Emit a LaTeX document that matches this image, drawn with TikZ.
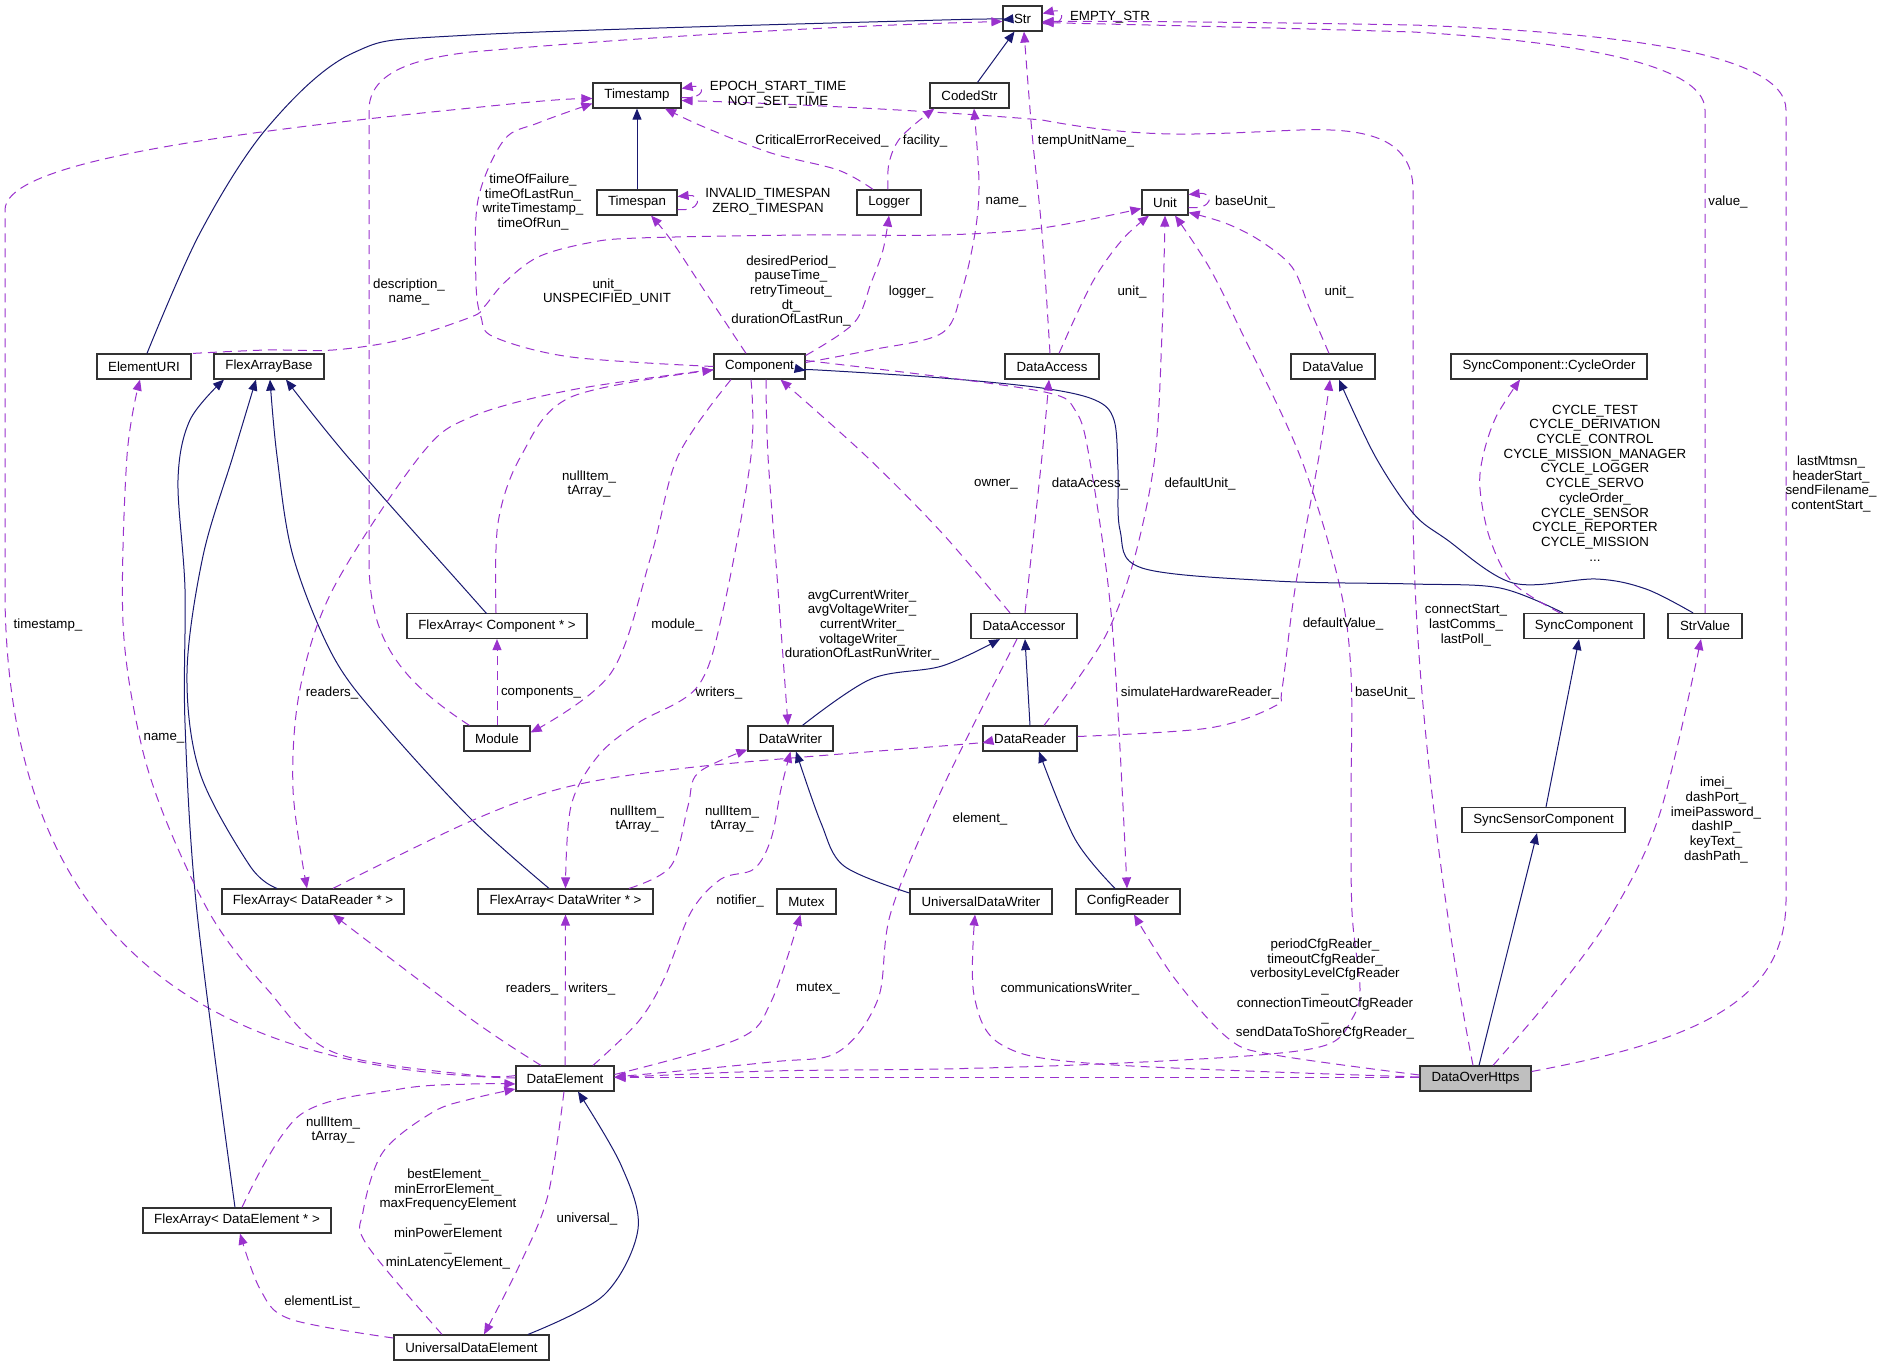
\documentclass[tikz,border=0pt]{standalone}
\usepackage{fontspec}
\setmainfont{Liberation Sans}
\usetikzlibrary{arrows.meta}
\definecolor{purp}{RGB}{154,50,205}
\definecolor{navy}{RGB}{25,25,112}
\definecolor{boxline}{RGB}{50,50,50}
\begin{document}
\begin{tikzpicture}[x=1pt,y=-1pt,
  box/.style={draw=boxline, line width=1.2pt, fill=white, rectangle, minimum height=25pt, inner sep=0pt, font=\fontsize{13.3}{14.7}\selectfont},
  inh/.style={draw=navy, line width=1pt, -{Triangle[length=11pt,width=9pt]}},
  usee/.style={draw=purp, line width=1pt, dash pattern=on 9pt off 6pt, -{Triangle[length=11pt,width=9pt]}},
  lbl/.style={font=\fontsize{13.3}{14.7}\selectfont, align=center, inner sep=0pt},
  sm/.style={smooth, tension=0.55}
]
\useasboundingbox (0,0) rectangle (1884,1367);
% nodes
\node[box, minimum width=39pt] (Str) at (1022.5,18.5) {Str};
\node[box, minimum width=79pt] (CodedStr) at (969.5,95.5) {CodedStr};
\node[box, minimum width=88pt] (Timestamp) at (637,95.5) {Timestamp};
\node[box, minimum width=80pt] (Timespan) at (637,202.5) {Timespan};
\node[box, minimum width=64pt] (Logger) at (889,202.5) {Logger};
\node[box, minimum width=46pt] (Unit) at (1165,202.5) {Unit};
\node[box, minimum width=94pt] (ElementURI) at (144,366.5) {ElementURI};
\node[box, minimum width=110pt] (FlexArrayBase) at (269,366.5) {FlexArrayBase};
\node[box, minimum width=91pt] (Component) at (759.5,366.5) {Component};
\node[box, minimum width=94pt] (DataAccess) at (1052,366.5) {DataAccess};
\node[box, minimum width=84pt] (DataValue) at (1333,366.5) {DataValue};
\node[box, minimum width=196pt] (CycleOrder) at (1549,366.5) {SyncComponent::CycleOrder};
\node[box, minimum width=180pt] (FlexArrayComp) at (497,626) {FlexArray< Component * >};
\node[box, minimum width=106pt] (DataAccessor) at (1024,626) {DataAccessor};
\node[box, minimum width=120pt] (SyncComponent) at (1584,626) {SyncComponent};
\node[box, minimum width=74pt] (StrValue) at (1705,626) {StrValue};
\node[box, minimum width=66pt] (Module) at (497,738.5) {Module};
\node[box, minimum width=85pt] (DataWriter) at (790.5,738.5) {DataWriter};
\node[box, minimum width=94pt] (DataReader) at (1030,738.5) {DataReader};
\node[box, minimum width=163pt] (SyncSensorComponent) at (1543.5,820) {SyncSensorComponent};
\node[box, minimum width=182pt] (FlexArrayReader) at (313,901.5) {FlexArray< DataReader * >};
\node[box, minimum width=175pt] (FlexArrayWriter) at (565.5,901.5) {FlexArray< DataWriter * >};
\node[box, minimum width=59pt] (Mutex) at (806.5,901.5) {Mutex};
\node[box, minimum width=142pt] (UniversalDataWriter) at (981,901.5) {UniversalDataWriter};
\node[box, minimum width=104pt] (ConfigReader) at (1128,901.5) {ConfigReader};
\node[box, minimum width=98pt] (DataElement) at (565,1078.5) {DataElement};
\node[box, minimum width=111pt, fill={rgb,255:red,191;green,191;blue,191}] (DataOverHttps) at (1475.5,1078.5) {DataOverHttps};
\node[box, minimum width=188pt] (FlexArrayElement) at (237,1220.5) {FlexArray< DataElement * >};
\node[box, minimum width=155pt] (UniversalDataElement) at (471.5,1347.5) {UniversalDataElement};

% edges
\draw[inh] plot[sm] coordinates {([xshift=3pt]ElementURI.north) (200,233) (267,128) (353,53) (471,35) (942,20) ([yshift=-1.5pt]Str.west)};
\draw[usee] ([xshift=6pt]Module.north west) .. controls (400,680) and (369,640) .. (369,560) -- (369,110) .. controls (369,70) and (420,58) .. (471,52) .. controls (700,32) and (900,24) .. ([yshift=-3pt]Str.west);
\draw[usee] ([yshift=-5pt]Str.east) .. controls (1066,28) and (1066,8) .. ([yshift=5pt]Str.east);
\draw[inh] ([xshift=8pt]CodedStr.north) -- ([xshift=-8pt]Str.south);
\draw[usee] ([yshift=-2pt]Timestamp.east) .. controls (706,100) and (706,84) .. ([yshift=7pt]Timestamp.east);
\draw[inh] (Timespan.north) -- (Timestamp.south);
\draw[usee] ([yshift=-7pt]Timespan.east) .. controls (702,212) and (702,194) .. ([yshift=6pt]Timespan.east);
\draw[usee] plot[sm] coordinates {([xshift=-16pt]Logger.north) (838,170) (771,153) (704,127) ([xshift=28pt]Timestamp.south)};
\draw[usee] plot[sm] coordinates {([xshift=-1pt]Logger.north) (889,163) (901,137) ([xshift=5pt]CodedStr.south west)};
\draw[usee] plot[sm] coordinates {(Component.west) (571,357) (494,337) (481,317) (476,283) (478,200) (504,140) (538,123) ([yshift=-8pt]Timestamp.west)};
\draw[usee] ([yshift=0.5pt]DataElement.west) .. controls (180,1070) and (10,920) .. (5,600) -- (5,210) .. controls (5,170) and (150,140) .. (471,108) .. controls (530,102) and (560,99) .. ([yshift=-3pt]Timestamp.west);
\draw[usee] plot[sm] coordinates {([xshift=49pt]ElementURI.north) (267,350) (333,350) (400,340) (471,317) (484,307) (504,283) (538,257) (588,243) (638,238) (804,235) (942,235) (1042,228) ([yshift=-6pt]Unit.west)};
\draw[usee] plot[sm] coordinates {([xshift=-13.5pt]Component.north) (704,290) (671,240) ([xshift=14pt]Timespan.south)};
\draw[usee] plot[sm] coordinates {([yshift=11pt]Component.east) (854,323) (871,283) (883,250) (Logger.south)};
\draw[usee] plot[sm] coordinates {([yshift=4pt]Component.east) (871,350) (942,333) (962,290) (975,233) (979,183) ([xshift=4.5pt]CodedStr.south)};
\draw[usee] plot[sm] coordinates {([xshift=-2pt]DataAccess.north) (1042,233) (1032,133) ([xshift=1.5pt]Str.south)};
\draw[usee] plot[sm] coordinates {([xshift=7pt]DataAccess.north) (1092,283) (1122,240) ([xshift=-16pt]Unit.south)};
\draw[usee] ([yshift=-5pt]Unit.east) .. controls (1214,210) and (1214,192) .. ([yshift=8pt]Unit.east);
\draw[usee] plot[sm] coordinates {([xshift=-4pt]DataValue.north) (1309,307) (1292,267) (1259,240) (1225,223) ([yshift=-10pt]Unit.east)};
\draw[usee] plot[sm] coordinates {([xshift=14pt]DataReader.north) (1075,683) (1109,629) (1135,556) (1155,456) (1162,333) (Unit.south)};
\draw[usee] plot[sm] coordinates {([yshift=1pt]DataElement.east) (771,1071) (942,1069) (1100,1064) (1259,1055) (1329,1044) (1352,1019) (1360,989) (1352,912) (1351,800) (1351,673) (1339,583) (1300,456) (1242,333) (1209,267) ([xshift=10pt]Unit.south)};
\draw[usee] ([yshift=1pt]DataOverHttps.west) -- ([yshift=1pt]DataElement.east);
\draw[usee] ([xshift=-2.5pt]DataOverHttps.north) .. controls (1450,950) and (1413,700) .. (1413,500) -- (1413,190) .. controls (1413,135) and (1360,128) .. (1300,130) .. controls (1200,134) and (1150,140) .. (1042,120) .. controls (950,112) and (800,104) .. ([yshift=-5pt]Timestamp.east);
\draw[usee] ([yshift=7pt]DataOverHttps.east) .. controls (1700,1040) and (1786,1000) .. (1786,900) -- (1786,110) .. controls (1786,50) and (1600,32) .. (1413,25) .. controls (1250,22) and (1100,21) .. ([yshift=-3pt]Str.east);
\draw[usee] (StrValue.north) -- (1705,110) .. controls (1705,60) and (1550,40) .. (1413,32) .. controls (1250,27) and (1100,24) .. ([yshift=-4pt]Str.east);
\draw[usee] plot[sm] coordinates {([xshift=17.5pt]DataOverHttps.north) (1553,995) (1613,912) (1660,813) ([xshift=-4pt]StrValue.south)};
\draw[inh] ([xshift=3.5pt]DataOverHttps.north) -- ([xshift=-6.5pt]SyncSensorComponent.south);
\draw[inh] ([xshift=2.5pt]SyncSensorComponent.north) -- ([xshift=-5pt]SyncComponent.south);
\draw[inh] plot[sm] coordinates {([xshift=-21pt]SyncComponent.north) (1500,588) (1413,584) (1275,581) (1142,568) (1120,530) (1118,470) (1114,420) (1095,400) (1042,388) (942,378) (818,370) ([yshift=-4pt]Component.east)};
\draw[usee] plot[sm] coordinates {([xshift=-24pt]SyncComponent.north) (1513,583) (1490,539) (1480,489) (1483,456) (1496,417) ([xshift=-29pt]CycleOrder.south)};
\draw[inh] plot[sm] coordinates {([xshift=-12pt]StrValue.north) (1646,589) (1596,579) (1513,583) (1446,539) (1413,513) (1375,456) ([xshift=6pt]DataValue.south)};
\draw[usee] plot[sm] coordinates {([yshift=2pt]DataReader.east) (1209,728) (1275,706) (1282,689) (1295,589) (1319,456) ([xshift=-3pt]DataValue.south)};
\draw[inh] (DataReader.north) -- ([xshift=1pt]DataAccessor.south);
\draw[usee] plot[sm] coordinates {([xshift=1pt]DataAccessor.north) (1042,456) ([xshift=-3pt]DataAccess.south)};
\draw[usee] plot[sm] coordinates {([xshift=-14pt]DataAccessor.north) (942,533) (866,456) ([xshift=21pt]Component.south)};
\draw[inh] plot[sm] coordinates {([xshift=12pt]DataWriter.north) (871,679) (942,666) ([xshift=-24pt]DataAccessor.south)};
\draw[usee] plot[sm] coordinates {([xshift=6.5pt]Component.south) (768,456) (778,589) ([xshift=-2.5pt]DataWriter.north)};
\draw[usee] plot[sm] coordinates {([xshift=-8.5pt]Component.south) (751,456) (724,606) (698,686) (638,723) (598,756) (571,806) (FlexArrayWriter.north)};
\draw[usee] plot[sm] coordinates {([xshift=-28.5pt]Component.south) (678,456) (651,556) (611,673) ([yshift=6pt]Module.east)};
\draw[usee] (Module.north) -- (FlexArrayComp.south);
\draw[usee] plot[sm] coordinates {([xshift=-1pt]FlexArrayComp.north) (498,523) (521,456) (571,397) ([yshift=-3.5pt]Component.west)};
\draw[inh] plot[sm] coordinates {([xshift=-11pt]FlexArrayComp.north) (471,596) (347,456) ([xshift=17pt]FlexArrayBase.south)};
\draw[inh] plot[sm] coordinates {([xshift=-36pt]FlexArrayReader.north) (250,866) (200,773) (187,673) (203,556) (233,456) ([xshift=-13pt]FlexArrayBase.south)};
\draw[inh] plot[sm] coordinates {([xshift=-16.5pt]FlexArrayWriter.north) (471,819) (383,723) (333,656) (293,556) (277,456) ([xshift=1pt]FlexArrayBase.south)};
\draw[inh] plot[sm] coordinates {([xshift=-2pt]FlexArrayElement.north) (197,912) (185,723) (185,589) (178,480) (190,420) ([xshift=-45pt]FlexArrayBase.south)};
\draw[usee] plot[sm] coordinates {([xshift=-24pt]DataElement.north) (471,1019) ([xshift=20pt]FlexArrayReader.south)};
\draw[usee] (DataElement.north) -- (FlexArrayWriter.south);
\draw[usee] plot[sm] coordinates {([xshift=28pt]DataElement.north) (638,1022) (664,979) (691,912) (721,879) (754,869) (771,839) (781,789) (DataWriter.south)};
\draw[usee] plot[sm] coordinates {([yshift=4pt]DataElement.east) (738,1039) (771,1002) ([xshift=-6pt]Mutex.south)};
\draw[usee] plot[sm] coordinates {([xshift=-7pt]DataAccessor.south) (942,789) (891,912) (878,999) (838,1052) (771,1062) ([yshift=1.5pt]DataElement.east)};
\draw[usee] plot[sm] coordinates {([yshift=-3pt]Component.west) (571,390) (471,417) (420,456) (333,589) (300,689) (293,789) ([xshift=-6pt]FlexArrayReader.north)};
\draw[usee] plot[sm] coordinates {([xshift=20pt]FlexArrayReader.north) (471,821) (571,786) (704,766) (942,746) ([yshift=-4.5pt]DataReader.west)};
\draw[usee] plot[sm] coordinates {([xshift=63.5pt]FlexArrayWriter.north) (671,866) (688,806) (698,773) ([yshift=2pt]DataWriter.south west)};
\draw[usee] plot[sm] coordinates {([yshift=3pt]DataElement.west) (471,1075) (333,1052) (267,989) (213,919) (167,823) (140,739) (123,623) (127,456) ([xshift=-4pt]ElementURI.south)};
\draw[usee] plot[sm] coordinates {([xshift=5pt]FlexArrayElement.north) (300,1115) (400,1089) (471,1084) ([yshift=-5.5pt]DataElement.west)};
\draw[usee] plot[sm] coordinates {([xshift=-29.5pt]UniversalDataElement.north) (367,1245) (363,1212) (383,1152) (433,1112) (471,1099) ([yshift=-10.5pt]DataElement.west)};
\draw[usee] plot[sm] coordinates {([xshift=-1pt]DataElement.south) (548,1195) (521,1262) ([xshift=12.5pt]UniversalDataElement.north)};
\draw[inh] plot[sm] coordinates {([xshift=56.5pt]UniversalDataElement.north) (604,1295) (638,1229) (621,1165) ([xshift=13pt]DataElement.south)};
\draw[usee] plot[sm] coordinates {([yshift=9.5pt]UniversalDataElement.west) (290,1319) (260,1289) ([xshift=3pt]FlexArrayElement.south)};
\draw[inh] plot[sm] coordinates {([yshift=8.5pt]UniversalDataWriter.west) (844,866) (821,823) ([xshift=5.5pt]DataWriter.south)};
\draw[inh] plot[sm] coordinates {([xshift=-13pt]ConfigReader.north) (1075,839) ([xshift=9pt]DataReader.south)};
\draw[usee] plot[sm] coordinates {([yshift=6pt]Component.east) (942,377) (1049,393) (1075,410) (1089,456) (1112,623) ([xshift=-1pt]ConfigReader.north)};
\draw[usee] plot[sm] coordinates {([yshift=1.5pt]DataOverHttps.west) (1099,1064) (1002,1045) (974,995) ([xshift=-6pt]UniversalDataWriter.south)};
\draw[usee] plot[sm] coordinates {([yshift=3.5pt]DataOverHttps.west) (1275,1055) (1229,1039) (1175,979) ([xshift=6pt]ConfigReader.south)};

% labels
\node[lbl] (l1) at (409,292) {description\_\\name\_};
\node[lbl] (l2) at (1110,17) {EMPTY\_STR};
\node[lbl] (l3) at (778,95) {EPOCH\_START\_TIME\\NOT\_SET\_TIME};
\node[lbl] (l4) at (768,202) {INVALID\_TIMESPAN\\ZERO\_TIMESPAN};
\node[lbl] (l5) at (822,141) {CriticalErrorReceived\_};
\node[lbl] (l6) at (925,141) {facility\_};
\node[lbl] (l7) at (533,202) {timeOfFailure\_\\timeOfLastRun\_\\writeTimestamp\_\\timeOfRun\_};
\node[lbl] (l8) at (48,625) {timestamp\_};
\node[lbl] (l9) at (607,292) {unit\_\\UNSPECIFIED\_UNIT};
\node[lbl] (l10) at (791,291) {desiredPeriod\_\\pauseTime\_\\retryTimeout\_\\dt\_\\durationOfLastRun\_};
\node[lbl] (l11) at (911,292) {logger\_};
\node[lbl] (l12) at (1006,202) {name\_};
\node[lbl] (l13) at (1086,141) {tempUnitName\_};
\node[lbl] (l14) at (1132,292) {unit\_};
\node[lbl] (l15) at (1245,202) {baseUnit\_};
\node[lbl] (l16) at (1339,292) {unit\_};
\node[lbl] (l17) at (1200,484) {defaultUnit\_};
\node[lbl] (l18) at (1385,693) {baseUnit\_};
\node[lbl] (l19) at (1466,625) {connectStart\_\\lastComms\_\\lastPoll\_};
\node[lbl] (l20) at (1831,484) {lastMtmsn\_\\headerStart\_\\sendFilename\_\\contentStart\_};
\node[lbl] (l21) at (1728,202) {value\_};
\node[lbl] (l22) at (1716,820) {imei\_\\dashPort\_\\imeiPassword\_\\dashIP\_\\keyText\_\\dashPath\_};
\node[lbl] (l23) at (1595,483) {CYCLE\_TEST\\CYCLE\_DERIVATION\\CYCLE\_CONTROL\\CYCLE\_MISSION\_MANAGER\\CYCLE\_LOGGER\\CYCLE\_SERVO\\cycleOrder\_\\CYCLE\_SENSOR\\CYCLE\_REPORTER\\CYCLE\_MISSION\\...};
\node[lbl] (l24) at (1343,624) {defaultValue\_};
\node[lbl] (l25) at (1090,484) {dataAccess\_};
\node[lbl] (l26) at (996,484) {owner\_};
\node[lbl] (l27) at (862,625) {avgCurrentWriter\_\\avgVoltageWriter\_\\currentWriter\_\\voltageWriter\_\\durationOfLastRunWriter\_};
\node[lbl] (l28) at (719,693) {writers\_};
\node[lbl] (l29) at (677,625) {module\_};
\node[lbl] (l30) at (541,693) {components\_};
\node[lbl] (l31) at (589,484) {nullItem\_\\tArray\_};
\node[lbl] (l32) at (532,989) {readers\_};
\node[lbl] (l33) at (592,989) {writers\_};
\node[lbl] (l34) at (740,901) {notifier\_};
\node[lbl] (l35) at (818,989) {mutex\_};
\node[lbl] (l36) at (980,819) {element\_};
\node[lbl] (l37) at (332,693) {readers\_};
\node[lbl] (l38) at (637,819) {nullItem\_\\tArray\_};
\node[lbl] (l39) at (732,819) {nullItem\_\\tArray\_};
\node[lbl] (l40) at (164,738) {name\_};
\node[lbl] (l41) at (333,1130) {nullItem\_\\tArray\_};
\node[lbl] (l42) at (448,1219) {bestElement\_\\minErrorElement\_\\maxFrequencyElement\\\_\\minPowerElement\\\_\\minLatencyElement\_};
\node[lbl] (l43) at (587,1219) {universal\_};
\node[lbl] (l44) at (322,1302) {elementList\_};
\node[lbl] (l45) at (1200,693) {simulateHardwareReader\_};
\node[lbl] (l46) at (1070,989) {communicationsWriter\_};
\node[lbl] (l47) at (1325,989) {periodCfgReader\_\\timeoutCfgReader\_\\verbosityLevelCfgReader\\\_\\connectionTimeoutCfgReader\\\_\\sendDataToShoreCfgReader\_};
\end{tikzpicture}
\end{document}
